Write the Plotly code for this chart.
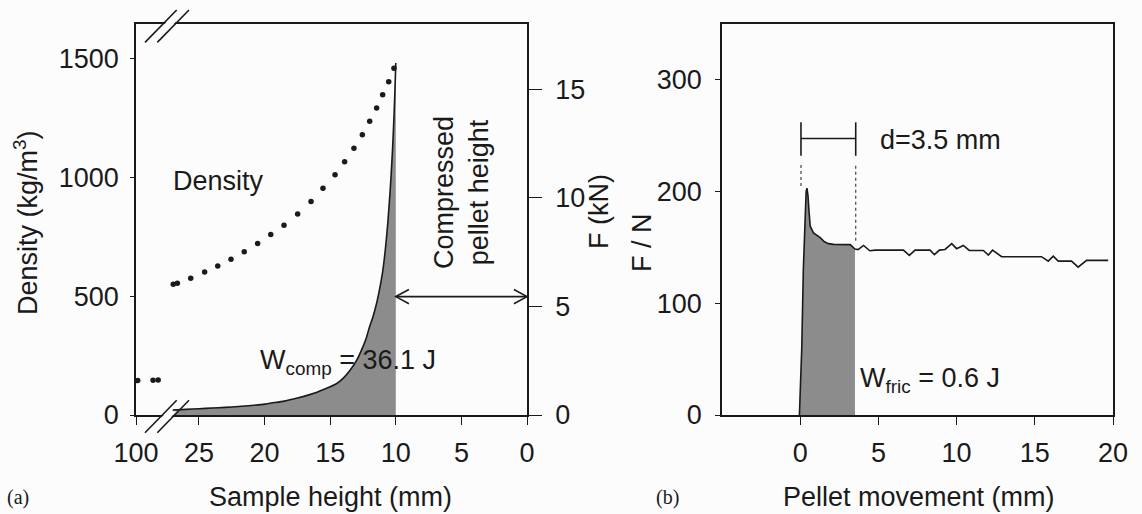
import numpy as np
import plotly.graph_objects as go

# ---------------- data ----------------
# (a) density of the sample vs. sample height (mm); first points lie beyond the axis break
DENS_HEIGHT_FAR = [99.5, 95.0, 93.5]
DENS_VALUE_FAR = [145, 146, 147]
DENS_HEIGHT = [26.96, 26.65, 25.63, 24.57, 23.57, 22.56, 21.55, 20.53, 19.53, 18.52,
               17.48, 16.46, 15.55, 14.63, 13.90, 13.19, 12.55, 11.99, 11.46, 11.00,
               10.54, 10.14]
DENS_VALUE = [551, 555, 576, 602, 628, 656, 688, 722, 760, 799,
              847, 899, 955, 1012, 1067, 1124, 1180, 1237, 1293, 1349,
              1404, 1461]

# (a) compression force (kN) vs. sample height (mm)
COMP_HEIGHT = [27.0, 26.0, 25.0, 24.0, 23.0, 22.0, 21.0, 20.0, 19.5, 18.5,
               17.5, 16.5, 16.0, 15.5, 15.0, 14.5, 14.0, 13.5, 13.0, 12.5,
               12.25, 12.0, 11.75, 11.5, 11.25, 11.0, 10.8, 10.6, 10.4, 10.25,
               10.12, 10.03, 10.0]
COMP_FORCE = [0.23, 0.26, 0.29, 0.32, 0.35, 0.39, 0.44, 0.50, 0.55, 0.64,
              0.78, 0.95, 1.05, 1.17, 1.30, 1.45, 1.70, 2.05, 2.50, 3.15,
              3.55, 4.06, 4.50, 5.05, 5.75, 6.60, 7.60, 8.90, 10.6, 12.2,
              14.0, 15.6, 16.2]
PELLET_HEIGHT = 10.0
ARROW_LEVEL_KN = 5.45

# (b) friction force (N) vs. pellet movement (mm)
MOVE_MM = [-0.05, 0.10, 0.20, 0.30, 0.38, 0.43, 0.50, 0.55, 0.64, 0.85,
           1.28, 1.55, 1.81, 2.13, 3.20, 3.50, 3.70, 4.05, 4.45, 4.80,
           6.60, 6.98, 7.34, 8.30, 8.58, 8.90, 9.26, 9.69, 10.00, 10.43,
           10.81, 11.71, 12.03, 12.30, 12.88, 15.43, 15.86, 16.18, 16.50, 17.35,
           17.77, 18.31, 19.69]
FRIC_FORCE = [0, 60, 130, 180, 200, 203, 196, 185, 169, 163,
              158.7, 155, 153.4, 152.7, 152.5, 148.5, 148, 151.8, 147, 147.6,
              147.6, 142.9, 147.6, 147.6, 143.5, 147.6, 148.2, 153.4, 148.9, 151.8,
              147.3, 147.3, 143.2, 147.6, 141.7, 141.7, 137.7, 142.2, 137.7, 137.7,
              132.3, 138.4, 138.4]
D_START = 0.05
D_LENGTH = 3.5
D_END = D_START + D_LENGTH
FRIC_END = 3.5

# ---------------- page geometry ----------------
W, H = 1142, 514
FONT = "Liberation Sans, Arial, sans-serif"
INK = "#1a1a1a"
GREY = "#8c8c8c"
BG = "#fcfcfc"


def px(x):
    return x / W


def py(y):
    return 1 - y / H


# broken axis: heights beyond the break are compressed next to the "100" tick
AXIS_FAR_POS = 29.8
BREAK_SCALE = 0.26


def far_pos(h):
    return AXIS_FAR_POS - (100 - np.asarray(h)) * BREAK_SCALE


fig = go.Figure()

# ---- panel (a) ----
fig.add_trace(go.Scatter(
    x=COMP_HEIGHT, y=COMP_FORCE, xaxis="x", yaxis="y2", mode="lines",
    line=dict(color=INK, width=1.6, shape="spline", smoothing=0.6),
    fill="tozeroy", fillcolor=GREY, showlegend=False, hoverinfo="skip"))
fig.add_trace(go.Scatter(
    x=DENS_HEIGHT, y=DENS_VALUE, xaxis="x", yaxis="y", mode="markers",
    marker=dict(color=INK, size=5.5), showlegend=False))
fig.add_trace(go.Scatter(
    x=far_pos(DENS_HEIGHT_FAR), y=DENS_VALUE_FAR, xaxis="x", yaxis="y", mode="markers",
    marker=dict(color=INK, size=5.5), showlegend=False))

# ---- panel (b) ----
mv = np.array(MOVE_MM)
ff = np.array(FRIC_FORCE)
keep = mv < FRIC_END
fill_x = np.append(mv[keep], FRIC_END)
fill_y = np.append(ff[keep], np.interp(FRIC_END, mv, ff))
fig.add_trace(go.Scatter(
    x=fill_x, y=fill_y, xaxis="x2", yaxis="y3", mode="lines",
    line=dict(width=0, color=GREY), fill="tozeroy", fillcolor=GREY,
    showlegend=False, hoverinfo="skip"))
fig.add_trace(go.Scatter(
    x=MOVE_MM, y=FRIC_FORCE, xaxis="x2", yaxis="y3", mode="lines",
    line=dict(color=INK, width=1.6), showlegend=False))

tickfont = dict(family=FONT, size=27, color=INK)
axis_common = dict(showgrid=False, zeroline=False, showline=True, linecolor=INK,
                   linewidth=1.6, ticks="outside", tickcolor=INK, tickwidth=1.4,
                   tickfont=tickfont, automargin=False)

ydom = [py(415), py(24)]
fig.update_layout(
    width=W, height=H, margin=dict(l=0, r=0, t=0, b=0, autoexpand=False),
    paper_bgcolor=BG, plot_bgcolor=BG, showlegend=False,
    xaxis=dict(domain=[px(136), px(527)], range=[AXIS_FAR_POS, 0], anchor="y",
               tickvals=[AXIS_FAR_POS, 25, 20, 15, 10, 5, 0],
               ticktext=["100", "25", "20", "15", "10", "5", "0"],
               ticklen=8, ticklabelstandoff=5, mirror=True, **axis_common),
    yaxis=dict(domain=ydom, range=[0, 1647], anchor="x",
               tickvals=[0, 500, 1000, 1500], ticklen=4, ticklabelstandoff=6,
               **axis_common),
    yaxis2=dict(overlaying="y", side="right", anchor="x", range=[0, 18],
                tickvals=[0, 5, 10, 15], ticklen=13, ticklabelstandoff=8,
                **axis_common),
    xaxis2=dict(domain=[px(722), px(1113)], range=[-5, 20], anchor="y3",
                tickvals=[0, 5, 10, 15, 20], ticklen=8, ticklabelstandoff=5,
                mirror=True, **axis_common),
    yaxis3=dict(domain=ydom, range=[0, 350], anchor="x2",
                tickvals=[0, 100, 200, 300], ticklen=5, ticklabelstandoff=8,
                mirror=True, **axis_common),
)

shapes = []
# axis-break marks on the bottom and top edges of panel (a)
SLASH_X = (145, 157.3)
SLASH_DX, SLASH_BELOW, SLASH_ABOVE = 31.7, 18.4, 14.0
SLASH_SPAN = SLASH_BELOW + SLASH_ABOVE
for y_line in (414.3, 24):
    # blank the frame line between the two slashes
    xa = [x0 + SLASH_DX * (SLASH_BELOW - 3) / SLASH_SPAN for x0 in SLASH_X]
    xb = [x0 + SLASH_DX * (SLASH_BELOW + 3) / SLASH_SPAN for x0 in SLASH_X]
    shapes.append(dict(
        type="path", xref="paper", yref="paper", layer="above",
        path="M {:.5f},{:.5f} L {:.5f},{:.5f} L {:.5f},{:.5f} L {:.5f},{:.5f} Z".format(
            px(xa[0] + 1.5), py(y_line + 3), px(xa[1] - 1.5), py(y_line + 3),
            px(xb[1] - 1.5), py(y_line - 3), px(xb[0] + 1.5), py(y_line - 3)),
        fillcolor=BG, line=dict(width=0)))
    for x0 in SLASH_X:
        shapes.append(dict(
            type="line", xref="paper", yref="paper", layer="above",
            x0=px(x0), y0=py(y_line + SLASH_BELOW), x1=px(x0 + SLASH_DX),
            y1=py(y_line - SLASH_ABOVE), line=dict(color=INK, width=1.6)))

# double arrow spanning the compressed pellet height
shapes.append(dict(type="line", xref="x", yref="y2", x0=PELLET_HEIGHT, x1=0,
                   y0=ARROW_LEVEL_KN, y1=ARROW_LEVEL_KN, line=dict(color=INK, width=1.6)))
head_dx, head_dy = 1.0, 0.33
for tip, sgn in ((PELLET_HEIGHT, -1), (0, 1)):
    shapes.append(dict(
        type="path", xref="x", yref="y2",
        path=f"M {tip + sgn * head_dx},{ARROW_LEVEL_KN + head_dy} L {tip},{ARROW_LEVEL_KN} "
             f"L {tip + sgn * head_dx},{ARROW_LEVEL_KN - head_dy}",
        line=dict(color=INK, width=1.6)))

# dimension marker for the friction distance d
shapes.append(dict(type="line", xref="x2", yref="y3", x0=D_START, x1=D_END,
                   y0=247.5, y1=247.5, line=dict(color=INK, width=1.6)))
for xv in (D_START, D_END):
    shapes.append(dict(type="line", xref="x2", yref="y3", x0=xv, x1=xv,
                       y0=232, y1=262, line=dict(color=INK, width=1.6)))
shapes.append(dict(type="line", xref="x2", yref="y3", x0=D_START, x1=D_START,
                   y0=205, y1=225, line=dict(color="#444", width=1.2, dash="dot")))
shapes.append(dict(type="line", xref="x2", yref="y3", x0=D_END, x1=D_END,
                   y0=156, y1=225, line=dict(color="#444", width=1.2, dash="dot")))
fig.update_layout(shapes=shapes)

txt = dict(family=FONT, size=27, color=INK)
ann = [
    dict(x=px(218), y=py(181), text="Density"),
    dict(x=px(258), y=py(362), text="W<sub>comp</sub> = 36.1 J", xanchor="left"),
    dict(x=px(461), y=py(193), text="Compressed<br>pellet height", textangle=-90),
    dict(x=px(878), y=py(140), text="d=3.5 mm", xanchor="left"),
    dict(x=px(858), y=py(380), text="W<sub>fric</sub> = 0.6 J", xanchor="left"),
    dict(x=px(26), y=py(223), text="Density (kg/m<sup>3</sup>)", textangle=-90),
    dict(x=px(599), y=py(212), text="F (kN)", textangle=-90),
    dict(x=px(642), y=py(243), text="F / N", textangle=-90),
    dict(x=px(330), y=py(497), text="Sample height (mm)"),
    dict(x=px(919), y=py(497), text="Pellet movement (mm)"),
]
for a in ann:
    a.setdefault("xanchor", "center")
    a.update(xref="paper", yref="paper", yanchor="middle", showarrow=False, font=txt)
serif = dict(family="Liberation Serif, Times New Roman, serif", size=20, color=INK)
ann += [
    dict(x=px(5), y=py(497), text="(a)", xanchor="left", yanchor="middle",
         xref="paper", yref="paper", showarrow=False, font=serif),
    dict(x=px(654), y=py(497), text="(b)", xanchor="left", yanchor="middle",
         xref="paper", yref="paper", showarrow=False, font=serif),
]
fig.update_layout(annotations=ann)

fig.write_html("out.html")
